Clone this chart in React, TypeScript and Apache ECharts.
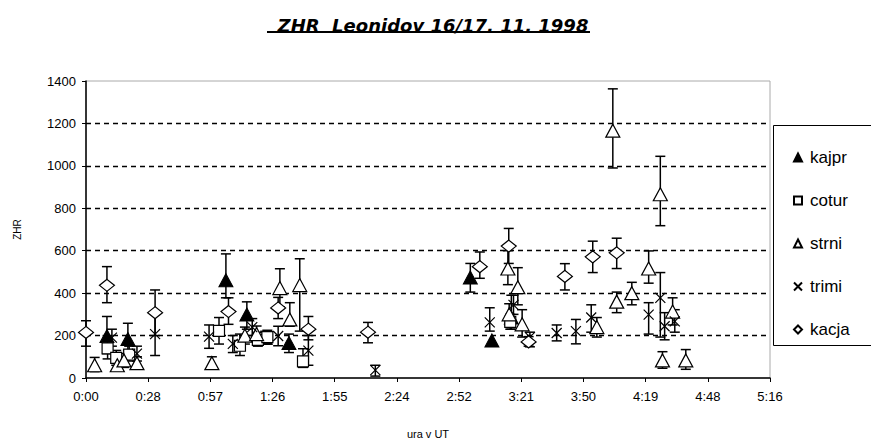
import React, { useEffect, useRef } from "react";
import * as echarts from "echarts";

// time in minutes after 0:00 UT, ZHR value, lower error, upper error
const kajpr: number[][] = [
  [9.7, 198, 115, 290], [19.4, 184, 130, 258], [64.8, 461, 378, 585], [74.5, 299, 230, 359],
  [83, 190, 160, 220], [94, 165, 120, 207], [178, 474, 405, 540], [188, 177, 177, 177],
  [197, 285, 230, 390],
];
const cotur: number[][] = [
  [10, 140, 90, 200], [14, 95, 60, 130], [20, 110, 80, 150], [61.6, 222, 160, 285],
  [71.3, 152, 106, 207], [79.6, 180, 150, 215], [84, 193, 160, 225], [100.5, 78, 50, 138],
  [196.5, 265, 230, 300],
];
const strni: number[][] = [
  [4, 60, 30, 97], [14.5, 60, 35, 90], [17.6, 83, 50, 115], [23.6, 70, 45, 100],
  [58.3, 70, 45, 100], [73.6, 200, 160, 240], [79, 207, 170, 245], [89.8, 424, 336, 515],
  [94.4, 276, 244, 355], [99, 438, 221, 562], [195.4, 516, 440, 600], [196, 300, 250, 350],
  [200, 428, 345, 520], [202, 253, 193, 322], [236.6, 240, 193, 285], [245.8, 360, 308, 405],
  [252.8, 400, 345, 451], [260.6, 516, 447, 599], [267, 83, 46, 124], [277.8, 83, 41, 134],
  [271.7, 313, 250, 378], [244, 1166, 990, 1363], [266, 866, 718, 1045],
];
const trimi: number[][] = [
  [12, 190, 150, 230], [23.6, 115, 80, 150], [32, 207, 106, 300], [57, 195, 140, 250],
  [68, 161, 120, 200], [77, 240, 200, 280], [89, 198, 152, 244], [103, 129, 60, 200],
  [134, 37, 9, 60], [187, 262, 221, 331], [198, 345, 300, 390], [205.6, 193, 147, 216],
  [218, 212, 175, 250], [226.9, 221, 161, 276], [234, 285, 216, 345], [260.6, 299, 207, 355],
  [266, 378, 193, 497], [268, 244, 180, 308], [272.7, 267, 216, 322],
];
const kacja: number[][] = [
  [0, 215, 150, 270], [9.7, 437, 355, 525], [32, 308, 200, 415], [66, 313, 253, 378],
  [89, 330, 280, 380], [103, 230, 180, 290], [130.6, 216, 166, 262], [182.4, 525, 470, 594],
  [195.8, 622, 540, 705], [205, 170, 150, 195], [221.8, 479, 415, 539], [234.7, 571, 497, 645],
  [245.8, 590, 516, 659],
];

const seriesNames = ["kajpr", "cotur", "strni", "trimi", "kacja"];
const titleText = "ZHR \u00a0Leonidov 16/17. 11. 1998";
const yName = "ZHR";
const xName = "ura v UT";

const fmtTime = (v: number) => {
  const m = Math.floor(v + 1e-6);
  const h = Math.floor(m / 60);
  const mm = m % 60;
  return h + ":" + (mm < 10 ? "0" : "") + mm;
};

const errorSeries = (data: number[][], name: string) => ({
  type: "custom",
  name: name + "-err",
  z: 1,
  silent: true,
  data: data.map((d) => [d[0], d[2], d[3]]),
  renderItem: (params: any, api: any) => {
    const lo = api.coord([api.value(0), api.value(1)]);
    const hi = api.coord([api.value(0), api.value(2)]);
    if (Math.abs(lo[1] - hi[1]) < 1) return { type: "group", children: [] };
    const w = 5;
    const style = { stroke: "#000", lineWidth: 1.5 };
    return {
      type: "group",
      children: [
        { type: "line", shape: { x1: lo[0], y1: lo[1], x2: hi[0], y2: hi[1] }, style },
        { type: "line", shape: { x1: lo[0] - w, y1: lo[1], x2: lo[0] + w, y2: lo[1] }, style },
        { type: "line", shape: { x1: hi[0] - w, y1: hi[1], x2: hi[0] + w, y2: hi[1] }, style },
      ],
    };
  },
});

export default function App() {
  const ref = useRef<HTMLDivElement>(null);
  useEffect(() => {
    const chart = echarts.init(ref.current!, null, { renderer: "svg" });
    const hollow = { color: "#fff", borderColor: "#000", borderWidth: 1.2, opacity: 1 };
    const sets = [kajpr, cotur, strni, trimi, kacja];
    const symbols: any[] = ["triangle", "rect", "triangle", "path://M0,0L10,10M10,0L0,10", "diamond"];
    const sizes: any[] = [[14, 13], [11, 11], [14, 13], [10, 10], [15, 12]];
    const styles: any[] = [
      { color: "#000", borderColor: "#000", borderWidth: 1, opacity: 1 },
      hollow,
      hollow,
      { color: "rgba(0,0,0,0)", borderColor: "#000", borderWidth: 1.2, opacity: 1 },
      hollow,
    ];
    const series: any[] = [];
    sets.forEach((s, i) => series.push(errorSeries(s, seriesNames[i])));
    sets.forEach((s, i) =>
      series.push({
        type: "scatter",
        name: seriesNames[i],
        z: 3,
        symbol: symbols[i],
        symbolSize: sizes[i],
        itemStyle: styles[i],
        data: s.map((d) => [d[0], d[1]]),
      })
    );
    chart.setOption({
      animation: false,
      title: {
        text: titleText,
        left: 428,
        textAlign: "center",
        top: 11,
        textStyle: { fontFamily: "DejaVu Sans", fontSize: 18, fontWeight: "bold", fontStyle: "italic", color: "#000" },
      },
      grid: { left: 86, right: 101, top: 81, bottom: 59, show: true, borderColor: "#aaa", borderWidth: 1, backgroundColor: "transparent" },
      legend: {
        orient: "vertical",
        left: 788,
        top: 144,
        itemWidth: 8,
        itemHeight: 8,
        itemGap: 26,
        data: seriesNames,
        textStyle: { fontFamily: "Liberation Sans", fontSize: 17, color: "#000", lineHeight: 16, padding: [0, 0, 0, 3] },
      },
      xAxis: {
        type: "value",
        min: 0,
        max: 316.8,
        interval: 28.8,
        name: xName,
        nameLocation: "middle",
        nameGap: 50,
        nameTextStyle: { fontFamily: "Liberation Sans", fontSize: 11, color: "#000" },
        axisLine: { lineStyle: { color: "#000", width: 1.5 } },
        axisTick: { show: true, length: 4, lineStyle: { color: "#000" } },
        axisLabel: { formatter: fmtTime, fontFamily: "Liberation Sans", fontSize: 13, color: "#000", margin: 12 },
        splitLine: { show: false },
      },
      yAxis: {
        type: "value",
        min: 0,
        max: 1400,
        interval: 200,
        name: yName,
        nameLocation: "middle",
        nameGap: 64,
        nameTextStyle: { fontFamily: "Liberation Sans", fontSize: 10, color: "#000" },
        axisLine: { show: true, lineStyle: { color: "#000", width: 1.5 } },
        axisTick: { show: true, length: 4, lineStyle: { color: "#000" } },
        axisLabel: { formatter: (v: number) => String(v), fontFamily: "Liberation Sans", fontSize: 13, color: "#000", margin: 10 },
        splitLine: {
          show: true,
          lineStyle: {
            type: [5, 4],
            width: 1.3,
            color: ["rgba(0,0,0,0)", "#000", "#000", "#000", "#000", "#000", "#000", "rgba(0,0,0,0)"],
          },
        },
      },
      graphic: [
        { type: "line", shape: { x1: 267, y1: 32, x2: 590, y2: 32 }, style: { stroke: "#000", lineWidth: 2 } },
        { type: "rect", shape: { x: 773.5, y: 125.5, width: 110, height: 220 }, style: { fill: "none", stroke: "#000", lineWidth: 1 }, z: 0 },
      ],
      series,
    });
    return () => chart.dispose();
  }, []);
  return <div ref={ref} style={{ width: 871, height: 444, position: "absolute", left: 0, top: 0 }} />;
}
